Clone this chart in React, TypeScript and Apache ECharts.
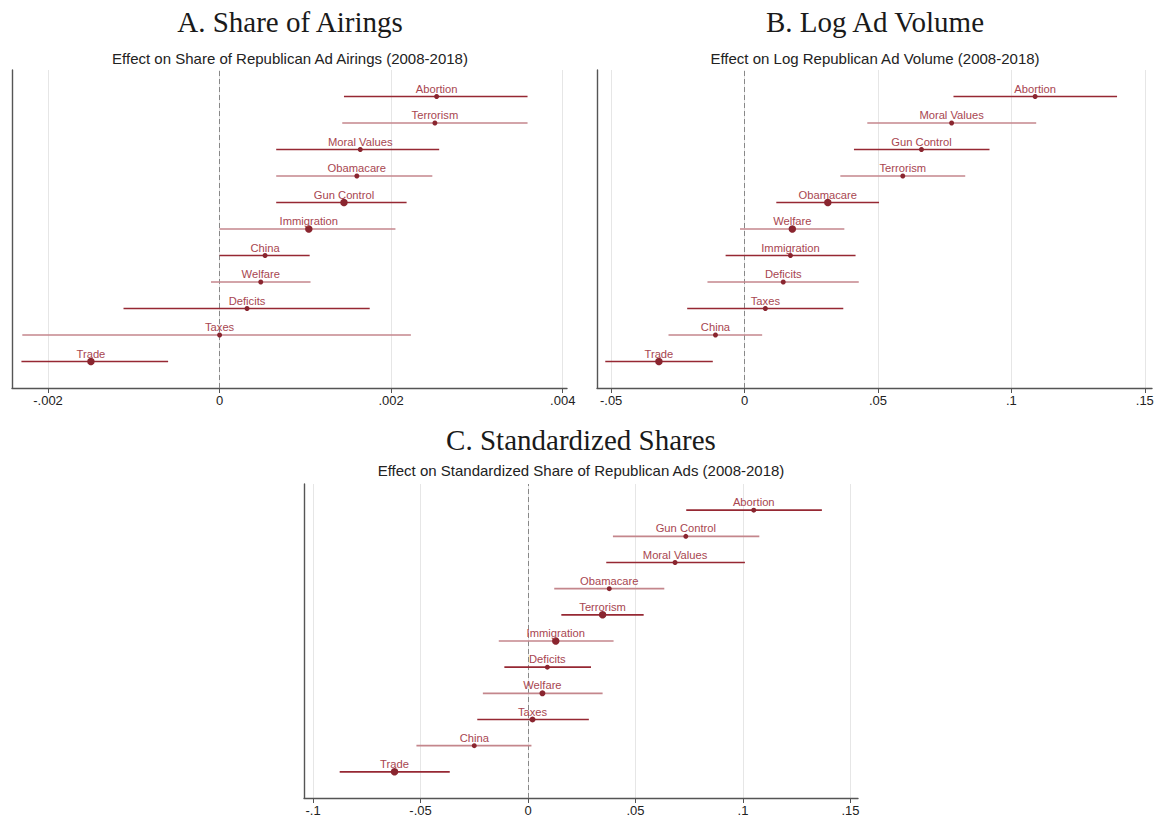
import React, { useEffect, useRef } from "react";
import * as echarts from "echarts";

// ---------- Data (rows listed top to bottom) ----------
const labelsA = ["Abortion", "Terrorism", "Moral Values", "Obamacare", "Gun Control", "Immigration", "China", "Welfare", "Deficits", "Taxes", "Trade"];
const estA = [0.00253, 0.00251, 0.00164, 0.00160, 0.00145, 0.00104, 0.00053, 0.00048, 0.00032, 0.00000, -0.00150];
const loA = [0.00145, 0.00143, 0.00066, 0.00066, 0.00066, 0.00000, 0.00000, -0.00010, -0.00112, -0.00230, -0.00231];
const hiA = [0.00359, 0.00359, 0.00256, 0.00248, 0.00218, 0.00205, 0.00105, 0.00106, 0.00175, 0.00223, -0.00060];
const sizeA = [5, 5, 5, 5, 7.5, 7.5, 5, 5, 5, 5, 7.5];
const ticksA = [-0.002, 0, 0.002, 0.004];

const labelsB = ["Abortion", "Moral Values", "Gun Control", "Terrorism", "Obamacare", "Welfare", "Immigration", "Deficits", "Taxes", "China", "Trade"];
const estB = [0.1089, 0.0776, 0.0663, 0.0593, 0.0312, 0.0179, 0.0172, 0.0145, 0.0078, -0.0109, -0.0321];
const loB = [0.0783, 0.0460, 0.0410, 0.0359, 0.0119, -0.0017, -0.0071, -0.0139, -0.0215, -0.0285, -0.0522];
const hiB = [0.1396, 0.1093, 0.0918, 0.0827, 0.0504, 0.0374, 0.0416, 0.0428, 0.0370, 0.0066, -0.0119];
const sizeB = [5, 5, 5, 5, 7.5, 7.5, 5, 5, 5, 5, 7.5];
const ticksB = [-0.05, 0, 0.05, 0.1, 0.15];

const labelsC = ["Abortion", "Gun Control", "Moral Values", "Obamacare", "Terrorism", "Immigration", "Deficits", "Welfare", "Taxes", "China", "Trade"];
const estC = [0.1050, 0.0734, 0.0684, 0.0378, 0.0347, 0.0129, 0.0090, 0.0067, 0.0021, -0.0250, -0.0621];
const loC = [0.0736, 0.0395, 0.0364, 0.0122, 0.0155, -0.0136, -0.0110, -0.0210, -0.0236, -0.0519, -0.0876];
const hiC = [0.1367, 0.1076, 0.1009, 0.0634, 0.0538, 0.0398, 0.0293, 0.0347, 0.0283, 0.0016, -0.0364];
const sizeC = [5, 5, 5, 5, 7.5, 7.5, 5, 6, 6, 5, 7.5];
const ticksC = [-0.1, -0.05, 0, 0.05, 0.1, 0.15];

const titles = ["A. Share of Airings", "B. Log Ad Volume", "C. Standardized Shares"];
const subtitles = [
  "Effect on Share of Republican Ad Airings (2008-2018)",
  "Effect on Log Republican Ad Volume (2008-2018)",
  "Effect on Standardized Share of Republican Ads (2008-2018)",
];

// ---------- Styling ----------
const DARK = "#962833";
const LIGHT = "#c4868c";
const POINT = "#8a252f";
const LABEL = "#a84650";
const AXIS = "#555555";
const SANS = "'Liberation Sans', Arial, sans-serif";
const SERIF = "'Liberation Serif', 'Times New Roman', serif";

const panels = [
  { labels: labelsA, est: estA, lo: loA, hi: hiA, size: sizeA, ticks: ticksA, min: -0.00242, max: 0.00405,
    grid: { left: 12, top: 70, width: 555, height: 318 } },
  { labels: labelsB, est: estB, lo: loB, hi: hiB, size: sizeB, ticks: ticksB, min: -0.0553, max: 0.1527,
    grid: { left: 597, top: 70, width: 555, height: 318 } },
  { labels: labelsC, est: estC, lo: loC, hi: hiC, size: sizeC, ticks: ticksC, min: -0.1042, max: 0.1535,
    grid: { left: 304, top: 484, width: 554, height: 314 } },
];

const titlePos = [
  { x: 290, ty: 22, sy: 58 },
  { x: 875, ty: 22, sy: 58 },
  { x: 581, ty: 440, sy: 470 },
];

function fmt(v: number): string {
  if (Math.abs(v) < 1e-12) return "0";
  const s = String(+v.toPrecision(6));
  return s.replace(/^(-?)0\./, "$1.");
}

export default function App() {
  const ref = useRef<HTMLDivElement>(null);

  useEffect(() => {
    if (!ref.current) return;
    const chart = echarts.init(ref.current, null, { renderer: "svg" });

    const grids: any[] = [];
    const xAxes: any[] = [];
    const yAxes: any[] = [];
    const series: any[] = [];
    const graphics: any[] = [];

    panels.forEach((p, i) => {
      grids.push({ ...p.grid, containLabel: false });
      xAxes.push({
        gridIndex: i,
        type: "value",
        min: p.min,
        max: p.max,
        axisLine: { show: true, onZero: false, lineStyle: { color: AXIS, width: 1.4 } },
        axisTick: { show: true, length: 5, customValues: p.ticks, lineStyle: { color: AXIS, width: 1 } },
        axisLabel: {
          customValues: p.ticks,
          formatter: (v: number) => fmt(v),
          color: "#222",
          fontSize: 13,
          fontFamily: SANS,
          margin: 6,
        },
        splitLine: { show: true, lineStyle: { color: "#e6e6e6", width: 1 } },
      });
      yAxes.push({
        gridIndex: i,
        type: "value",
        min: 0,
        max: 12,
        axisLine: { show: true, onZero: false, lineStyle: { color: AXIS, width: 1.4 } },
        axisTick: { show: false },
        axisLabel: { show: false },
        splitLine: { show: false },
      });

      const n = p.labels.length;
      const barData = p.labels.map((_, k) => [p.lo[k], p.hi[k], n - k, k % 2 === 0 ? 1 : 0]);
      series.push({
        type: "custom",
        xAxisIndex: i,
        yAxisIndex: i,
        z: 2,
        clip: false,
        encode: { x: [0, 1], y: 2 },
        data: barData,
        renderItem: (_params: any, api: any) => {
          const a = api.coord([api.value(0), api.value(2)]);
          const b = api.coord([api.value(1), api.value(2)]);
          return {
            type: "line",
            shape: { x1: a[0], y1: a[1], x2: b[0], y2: b[1] },
            style: { stroke: api.value(3) ? DARK : LIGHT, lineWidth: 1.7 },
          };
        },
        markLine: {
          silent: true,
          symbol: "none",
          label: { show: false },
          z: 1,
          lineStyle: { type: [5, 3], color: "#888", width: 1 },
          data: [{ xAxis: 0 }],
        },
      });
      series.push({
        type: "scatter",
        xAxisIndex: i,
        yAxisIndex: i,
        z: 3,
        symbol: "circle",
        itemStyle: { color: POINT, opacity: 1 },
        data: p.labels.map((name, k) => ({ name, value: [p.est[k], n - k], symbolSize: p.size[k] })),
        label: {
          show: true,
          position: "inside",
          offset: [0, -8],
          formatter: "{b}",
          color: LABEL,
          textBorderWidth: 0,
          textBorderColor: "transparent",
          textShadowBlur: 0,
          fontSize: 11.2,
          fontFamily: SANS,
          verticalAlign: "middle",
          align: "center",
        },
      });

      const tp = titlePos[i];
      graphics.push({
        type: "text",
        x: tp.x,
        y: tp.ty,
        style: { text: titles[i], font: `29px ${SERIF}`, fill: "#1a1a1a", textAlign: "center", textVerticalAlign: "middle" },
      });
      graphics.push({
        type: "text",
        x: tp.x,
        y: tp.sy,
        style: { text: subtitles[i], font: `15px ${SANS}`, fill: "#222", textAlign: "center", textVerticalAlign: "middle" },
      });
    });

    chart.setOption({
      animation: false,
      backgroundColor: "#ffffff",
      grid: grids,
      xAxis: xAxes,
      yAxis: yAxes,
      series,
      graphic: graphics,
    });

    return () => chart.dispose();
  }, []);

  return (
    <div
      ref={ref}
      style={{ position: "absolute", left: 0, top: 0, width: 1157, height: 825, background: "#fff" }}
    />
  );
}
